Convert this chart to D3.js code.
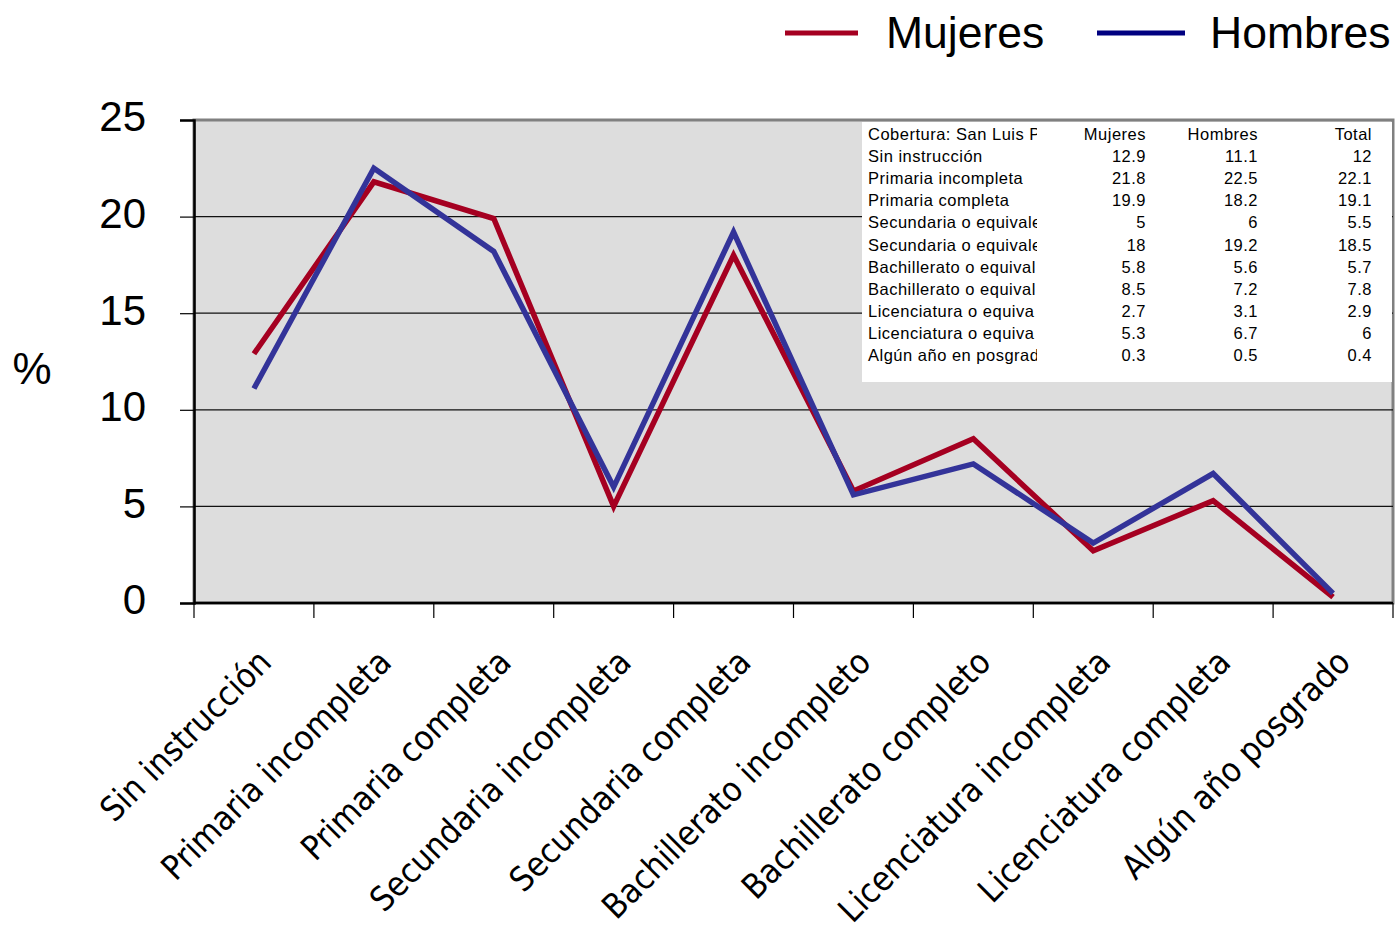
<!DOCTYPE html>
<html><head><meta charset="utf-8">
<script src="https://cdn.jsdelivr.net/npm/d3@7"></script>
<style>
html,body{margin:0;padding:0;background:#fff;}
svg{display:block;}
</style></head>
<body>
<svg id="chart" width="1395" height="930"></svg>
<script>
const categories = ["Sin instrucción","Primaria incompleta","Primaria completa","Secundaria incompleta","Secundaria completa","Bachillerato incompleto","Bachillerato completo","Licenciatura incompleta","Licenciatura completa","Algún año posgrado"];
const mujeres = [12.9,21.8,19.9,5,18,5.8,8.5,2.7,5.3,0.3];
const hombres = [11.1,22.5,18.2,6,19.2,5.6,7.2,3.1,6.7,0.5];
const total = [12,22.1,19.1,5.5,18.5,5.7,7.8,2.9,6,0.4];
const yTicks = [0,5,10,15,20,25];
const tableHeader = ["Cobertura: San Luis P","Mujeres","Hombres","Total"];
const tableLabels = ["Sin instrucción","Primaria incompleta","Primaria completa","Secundaria o equivale","Secundaria o equivale","Bachillerato o equival","Bachillerato o equival","Licenciatura o equiva","Licenciatura o equiva","Algún año en posgrad"];
const seriesNames = ["Mujeres","Hombres"];

const svg = d3.select("#chart");
const L = 194, R = 1393, T = 120, B = 603;

const x = d3.scaleBand().domain(categories).range([L, R]).padding(0);
const y = d3.scaleLinear().domain([0, 25]).range([B, T]);

// plot background
svg.append("rect").attr("x", L).attr("y", T).attr("width", R - L).attr("height", B - T)
  .attr("fill", "#dddddd").attr("stroke", "#808080").attr("stroke-width", 3);

// gridlines
svg.append("g").selectAll("line").data(yTicks.filter(d => d > 0 && d < 25)).join("line")
  .attr("x1", L).attr("x2", R).attr("y1", d => y(d)).attr("y2", d => y(d))
  .attr("stroke", "#111").attr("stroke-width", 1.2);

// y axis
const yAxis = svg.append("g").attr("transform", `translate(${L},0)`)
  .call(d3.axisLeft(y).tickValues(yTicks).tickSize(14).tickPadding(34));
yAxis.select(".domain").attr("stroke", "#000").attr("stroke-width", 2.5);
yAxis.selectAll(".tick line").attr("stroke", "#000").attr("stroke-width", 1.2);
yAxis.selectAll(".tick text").attr("font-family", "Liberation Sans, Arial, sans-serif")
  .attr("font-size", 42).attr("fill", "#000").attr("dy", "0.26em");

// x axis
const xTickPos = categories.map(c => x(c)).concat([R]);
const xAxisG = svg.append("g");
xAxisG.append("line").attr("x1", L).attr("x2", R).attr("y1", B).attr("y2", B)
  .attr("stroke", "#000").attr("stroke-width", 2.5);
xAxisG.selectAll("line.tk").data(xTickPos).join("line").attr("class", "tk")
  .attr("x1", d => d).attr("x2", d => d).attr("y1", B).attr("y2", B + 15)
  .attr("stroke", "#000").attr("stroke-width", 1.2);
xAxisG.selectAll("text").data(categories).join("text")
  .attr("transform", d => `translate(${x(d) + x.bandwidth() / 2 + 2},${B + 44}) rotate(-45)`)
  .attr("text-anchor", "end")
  .attr("dy", "0.72em")
  .attr("font-family", "DejaVu Sans Condensed, DejaVu Sans, sans-serif")
  .attr("font-stretch", "condensed")
  .attr("font-size", 34)
  .attr("fill", "#000")
  .text(d => d);

// y label
svg.append("text").attr("x", 32).attr("y", 384).attr("text-anchor", "middle")
  .attr("font-family", "Liberation Sans, Arial, sans-serif").attr("font-size", 44).text("%");

// data table (inside plot)
const tX = 862, tY = 122, tW = R - 1 - tX, tH = 260;
svg.append("rect").attr("x", tX).attr("y", tY).attr("width", tW).attr("height", tH).attr("fill", "#fff");
svg.append("clipPath").attr("id", "lblclip").append("rect")
  .attr("x", tX).attr("y", tY).attr("width", 1037 - tX).attr("height", tH);
const rowBase = i => 140 + i * 22.1;
const colRight = [null, 1146, 1258, 1372];
const tFont = {"font-family": "Liberation Sans, Arial, sans-serif", "font-size": 16.5, "letter-spacing": 0.5, "fill": "#000"};
const tg = svg.append("g");
function styleT(sel) { Object.entries(tFont).forEach(([k, v]) => sel.attr(k, v)); return sel; }
styleT(tg.append("text").attr("x", 868).attr("y", rowBase(0)).attr("clip-path", "url(#lblclip)").text(tableHeader[0]));
tableHeader.slice(1).forEach((h, j) => {
  styleT(tg.append("text").attr("x", colRight[j + 1]).attr("y", rowBase(0)).attr("text-anchor", "end").text(h));
});
const tableCols = [mujeres, hombres, total];
tableLabels.forEach((lab, i) => {
  styleT(tg.append("text").attr("x", 868).attr("y", rowBase(i + 1)).attr("clip-path", "url(#lblclip)").text(lab));
  tableCols.forEach((col, j) => {
    styleT(tg.append("text").attr("x", colRight[j + 1]).attr("y", rowBase(i + 1)).attr("text-anchor", "end").text(col[i]));
  });
});

// lines
const line = d3.line().x((d, i) => x(categories[i]) + x.bandwidth() / 2).y(d => y(d));
svg.append("path").datum(mujeres).attr("d", line).attr("fill", "none")
  .attr("stroke", "#A50021").attr("stroke-width", 5.5).attr("stroke-linejoin", "miter");
svg.append("path").datum(hombres).attr("d", line).attr("fill", "none")
  .attr("stroke", "#333399").attr("stroke-width", 5.5).attr("stroke-linejoin", "miter");

// legend
const legend = [
  {name: seriesNames[0], color: "#A50021", x1: 785, x2: 858, tx: 886},
  {name: seriesNames[1], color: "#000080", x1: 1097, x2: 1185, tx: 1210}
];
const lg = svg.append("g");
legend.forEach(l => {
  lg.append("line").attr("x1", l.x1).attr("x2", l.x2).attr("y1", 33).attr("y2", 33)
    .attr("stroke", l.color).attr("stroke-width", 5);
  lg.append("text").attr("x", l.tx).attr("y", 48).attr("font-family", "Liberation Sans, Arial, sans-serif")
    .attr("font-size", 44.5).attr("fill", "#000").text(l.name);
});
</script>
</body></html>
